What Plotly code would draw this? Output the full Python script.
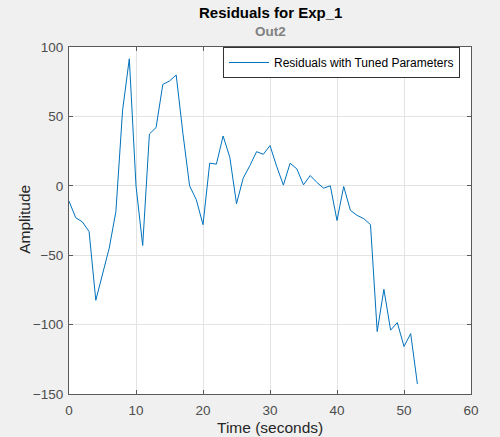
import plotly.graph_objects as go

time_s = list(range(0, 53))
residuals = [
    -11, -23, -26, -33, -82.5, -63, -45, -18.5, 54.5, 91.5,
    0, -43, 37.3, 42, 73, 75.5, 79.8, 37.8, 0, -10,
    -28, 16.3, 15.6, 35.9, 20.6, -12.9, 5.5, 14.6, 24.6, 22.7,
    29, 13.9, 0.5, 16.3, 12.2, 0.7, 7.4, 2.4, -1.7, 0,
    -25, -0.5, -17.7, -21.3, -23.7, -28, -105, -74.6, -104, -98.6,
    -115.8, -106.5, -142.8,
]
x_ticks = [0, 10, 20, 30, 40, 50, 60]
y_ticks = [-150, -100, -50, 0, 50, 100]

FONT = "Liberation Sans, Arial, sans-serif"
W, H = 500, 437
plot_l, plot_r, plot_t, plot_b = 69, 471, 47, 394.5

fig = go.Figure()
fig.add_trace(go.Scatter(
    x=time_s, y=residuals, mode="lines",
    name="Residuals with Tuned Parameters",
    line=dict(color="#0072BD", width=1),
))

axis_common = dict(
    showgrid=True, gridcolor="#e3e3e3", gridwidth=1, automargin=False,
    zeroline=False, showline=True, linecolor="#5a5a5a", linewidth=1,
    mirror="ticks", ticks="inside", ticklen=4, tickcolor="#5a5a5a",
    tickfont=dict(family=FONT, size=13.5, color="#4d4d4d"),
)


def pfx(px):
    return (px - plot_l) / (plot_r - plot_l)


def pfy(py):
    return (plot_b - py) / (plot_b - plot_t)


fig.update_layout(
    width=W, height=H,
    margin=dict(l=plot_l, r=W - plot_r, t=plot_t, b=H - plot_b, autoexpand=False),
    paper_bgcolor="#f0f0f0", plot_bgcolor="#ffffff",
    font=dict(family=FONT, color="#262626"),
    xaxis=dict(range=[0, 60], tickvals=x_ticks, ticklabelstandoff=4, **axis_common),
    yaxis=dict(range=[-150, 100], tickvals=y_ticks, ticklabelstandoff=2, **axis_common),
    showlegend=True,
    legend=dict(
        x=pfx(460), y=1.0, xanchor="right", yanchor="top",
        bgcolor="#ffffff", bordercolor="#333333", borderwidth=1,
        font=dict(family=FONT, size=12, color="#000000"),
        itemwidth=40, tracegroupgap=0,
    ),
    annotations=[
        dict(text="<b>Residuals for Exp_1</b>", x=pfx(270), y=pfy(12),
             font=dict(family=FONT, size=15, color="#000000")),
        dict(text="<b>Out2</b>", x=pfx(270), y=pfy(31),
             font=dict(family=FONT, size=13.5, color="#808080")),
        dict(text="Time (seconds)", x=pfx(270), y=pfy(428),
             font=dict(family=FONT, size=15.5, color="#262626")),
        dict(text="Amplitude", x=pfx(25), y=pfy(220), textangle=-90,
             font=dict(family=FONT, size=15.5, color="#262626")),
    ],
)
for a in fig.layout.annotations:
    a.xref = "paper"; a.yref = "paper"; a.showarrow = False
    a.xanchor = "center"; a.yanchor = "middle"

fig.write_html("out.html", config={"responsive": False, "displayModeBar": False})

# remove the browser's default page margin so the figure sits at (0, 0)
with open("out.html", "r", encoding="utf-8") as f:
    html = f.read()
html = html.replace("<head>", "<head><style>html,body{margin:0;padding:0;overflow:hidden;}</style>", 1)
with open("out.html", "w", encoding="utf-8") as f:
    f.write(html)
